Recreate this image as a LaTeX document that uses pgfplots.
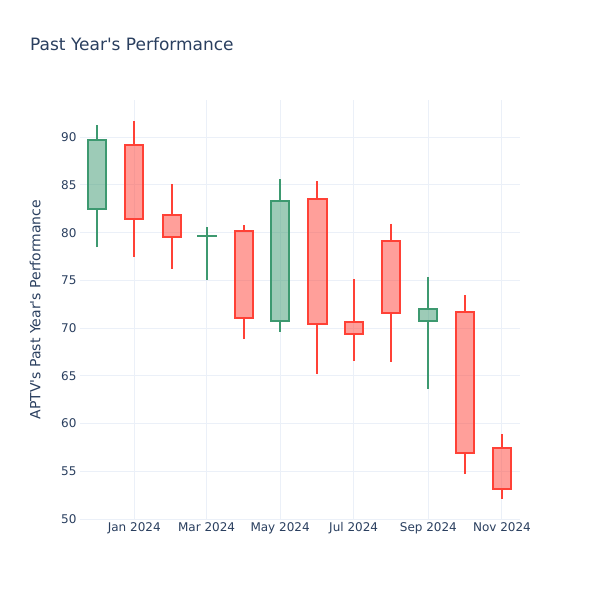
\documentclass[border=0pt]{standalone}
\usepackage{pgfplots}
\pgfplotsset{compat=1.18}
\usepgfplotslibrary{statistics}
\usepackage{fontspec}
\setmainfont{DejaVu Sans}
\definecolor{txt}{HTML}{2A3F5F}
\definecolor{grd}{HTML}{EBF0F8}
\definecolor{incc}{HTML}{3D9970}
\definecolor{decc}{HTML}{FF4136}
\tikzset{
  incs/.style={draw=incc, fill=incc, fill opacity=0.5, line width=2pt, solid},
  decs/.style={draw=decc, fill=decc, fill opacity=0.5, line width=2pt, solid},
}
\begin{document}
\begin{tikzpicture}[x=1pt,y=1pt]
\path[use as bounding box, fill=white] (0,0) rectangle (600,600);
\node[anchor=west, text=txt, font=\fontsize{17}{20}\selectfont, inner sep=0] at (30,556) {Past Year\textquotesingle s Performance};
\begin{axis}[at={(80pt,81pt)}, anchor=south west, scale only axis, width=440pt, height=419pt,
 xmin=-45, xmax=320, ymin=50, ymax=93.9,
 xtick={0,60,121,182,244,305},
 xticklabels={Jan 2024, Mar 2024, May 2024, Jul 2024, Sep 2024, Nov 2024},
 ytick={50,55,...,90},
 grid=major, major grid style={draw=grd, line width=1pt},
 axis line style={draw=none}, major tick length=0,
 tick label style={text=txt, font=\fontsize{12}{14}\selectfont},
 /pgf/number format/assume math mode=true,
 ylabel={APTV\textquotesingle s Past Year\textquotesingle s Performance},
 every axis y label/.style={at={(axis description cs:-0.102,0.5)}, rotate=90, anchor=center, text=txt, font=\fontsize{14}{16}\selectfont},
 boxplot/draw direction=y,
 boxplot/box extend=15,
 boxplot/whisker extend=0,
]
% Dec 2023
\addplot[incs, boxplot prepared={draw position=-31, lower whisker=78.45, lower quartile=82.5, median=89.75, upper quartile=89.75, upper whisker=91.3}] coordinates {};
% Jan
\addplot[decs, boxplot prepared={draw position=0, lower whisker=77.5, lower quartile=81.45, median=89.2, upper quartile=89.2, upper whisker=91.7}] coordinates {};
% Feb
\addplot[decs, boxplot prepared={draw position=31, lower whisker=76.2, lower quartile=79.55, median=81.8, upper quartile=81.8, upper whisker=85.1}] coordinates {};
% Mar
\addplot[incs, boxplot prepared={draw position=60, lower whisker=75.0, lower quartile=79.6, median=79.7, upper quartile=79.7, upper whisker=80.6}] coordinates {};
% Apr
\addplot[decs, boxplot prepared={draw position=91, lower whisker=68.85, lower quartile=71.05, median=80.2, upper quartile=80.2, upper whisker=80.8}] coordinates {};
% May
\addplot[incs, boxplot prepared={draw position=121, lower whisker=69.6, lower quartile=70.77, median=83.27, upper quartile=83.27, upper whisker=85.6}] coordinates {};
% Jun
\addplot[decs, boxplot prepared={draw position=152, lower whisker=65.15, lower quartile=70.45, median=83.5, upper quartile=83.5, upper whisker=85.4}] coordinates {};
% Jul
\addplot[decs, boxplot prepared={draw position=182, lower whisker=66.6, lower quartile=69.4, median=70.66, upper quartile=70.66, upper whisker=75.13}] coordinates {};
% Aug
\addplot[decs, boxplot prepared={draw position=213, lower whisker=66.44, lower quartile=71.54, median=79.08, upper quartile=79.08, upper whisker=80.96}] coordinates {};
% Sep
\addplot[incs, boxplot prepared={draw position=244, lower whisker=63.64, lower quartile=70.7, median=71.99, upper quartile=71.99, upper whisker=75.37}] coordinates {};
% Oct
\addplot[decs, boxplot prepared={draw position=274, lower whisker=54.71, lower quartile=56.88, median=71.7, upper quartile=71.7, upper whisker=73.45}] coordinates {};
% Nov
\addplot[decs, boxplot prepared={draw position=305, lower whisker=52.1, lower quartile=53.1, median=57.47, upper quartile=57.47, upper whisker=58.9}] coordinates {};
\end{axis}
\end{tikzpicture}
\end{document}
